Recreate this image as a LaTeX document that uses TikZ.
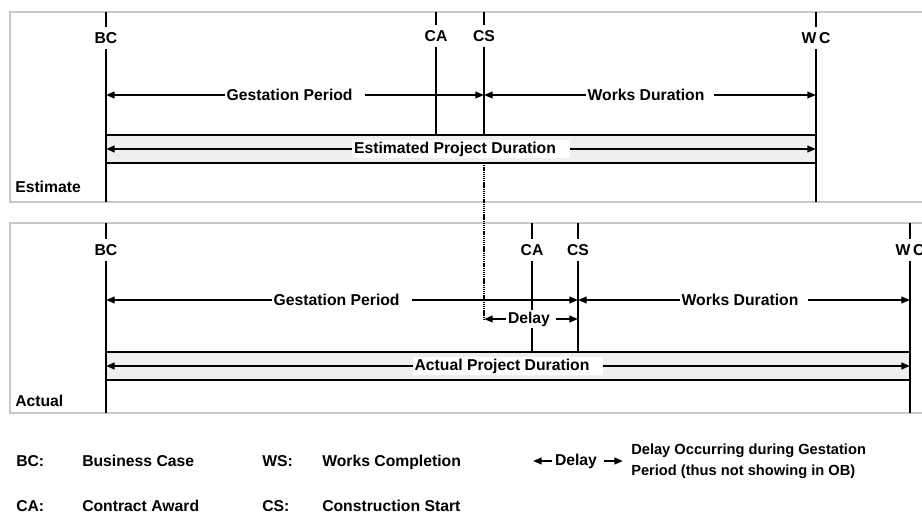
\documentclass[tikz,border=0pt]{standalone}
\usepackage{fontspec}
\setmainfont{Liberation Sans}
\usetikzlibrary{arrows.meta}
\definecolor{panelgrey}{HTML}{C8C8C8}
\definecolor{barfill}{HTML}{EFEFEF}
\begin{document}
\begin{tikzpicture}[x=0.75pt,y=-0.75pt,
  every node/.style={font=\fontsize{11.8}{13}\selectfont\bfseries},
  panelbox/.style={draw=panelgrey, line width=1.5pt},
  vline/.style={line width=1.5pt},
  msl/.style={fill=white, inner xsep=1pt, inner ysep=4pt},
  lbl/.style={fill=white, inner xsep=1.5pt, inner ysep=1.5pt},
  dimarrow/.style={line width=1.5pt, {Triangle[length=6.5pt,width=5pt]}-{Triangle[length=6.5pt,width=5pt]}},
  tipr/.style={line width=1.5pt, -{Triangle[length=6.5pt,width=5pt]}},
  barbox/.style={draw, fill=barfill, line width=1.5pt},
  plain/.style={inner sep=0pt, anchor=west},
  legtext/.style={inner sep=0pt, anchor=base west},
  dotline/.style={line width=1.5pt, dash pattern=on 1pt off 0.6pt},
]
\clip (0,0) rectangle (922,514);
\fill[white] (0,0) rectangle (922,514);

% ---------- panels ----------
\draw[panelbox] (10,12) rectangle (980,202);
\draw[panelbox] (10,223) rectangle (980,413);

% ---------- Estimate panel ----------
\coordinate (eBCt) at (106,12);  \coordinate (eBCb) at (106,202);
\coordinate (eCAt) at (436,12);  \coordinate (eCAb) at (436,135);
\coordinate (eCSt) at (484,12);  \coordinate (eCSb) at (484,135);
\coordinate (eWCt) at (816,12);  \coordinate (eWCb) at (816,202);

\draw[barbox] (106,135) rectangle (816,163);
\draw[vline] (eBCt) -- (eBCb);
\draw[vline] (eCAt) -- (eCAb);
\draw[vline] (eCSt) -- (eCSb);
\draw[vline] (eWCt) -- (eWCb);

\node[msl] (eBC) at (106,38) {BC};
\node[msl] (eCA) at (436,36) {CA};
\node[msl] (eCS) at (484,36) {CS};
\node[msl] (eWC) at (816,38) {W\kern2pt C};

\coordinate (eG1) at (106,95);  \coordinate (eG2) at (484,95);
\coordinate (eW1) at (484,95);  \coordinate (eW2) at (816,95);
\coordinate (eP1) at (106,149); \coordinate (eP2) at (816,149);

\draw[dimarrow] (eG1) -- (eG2) node[midway, lbl] (eGl) {Gestation Period\kern8pt};
\draw[dimarrow] (eW1) -- (eW2) node[midway, lbl] (eWl) {Works Duration\kern6pt};
\draw[dimarrow] (eP1) -- (eP2) node[midway, lbl] (ePl) {Estimated Project Duration\kern9pt};

\node[plain] (est) at (15,187) {Estimate};

% ---------- Actual panel ----------
\coordinate (aBCt) at (106,223); \coordinate (aBCb) at (106,413);
\coordinate (aCAt) at (532,223); \coordinate (aCAb) at (532,352);
\coordinate (aCSt) at (578,223); \coordinate (aCSb) at (578,352);
\coordinate (aWCt) at (910,223); \coordinate (aWCb) at (910,413);

\draw[barbox] (106,352) rectangle (910,380);
\draw[vline] (aBCt) -- (aBCb);
\draw[vline] (aCAt) -- (aCAb);
\draw[vline] (aCSt) -- (aCSb);
\draw[vline] (aWCt) -- (aWCb);

\node[msl] (aBC) at (106,250) {BC};
\node[msl] (aCA) at (532,250) {CA};
\node[msl] (aCS) at (578,250) {CS};
\node[msl] (aWC) at (910,250) {W\kern2pt C};

\coordinate (aG1) at (106,300); \coordinate (aG2) at (578,300);
\coordinate (aW1) at (578,300); \coordinate (aW2) at (910,300);
\coordinate (aD1) at (484,319); \coordinate (aD2) at (578,319);
\coordinate (aP1) at (106,366); \coordinate (aP2) at (910,366);

\draw[dimarrow] (aG1) -- (aG2) node[midway, lbl] (aGl) {Gestation Period\kern8pt};
\draw[dimarrow] (aW1) -- (aW2) node[midway, lbl] (aWl) {Works Duration\kern6pt};
\draw[dimarrow] (aP1) -- (aP2) node[midway, lbl] (aPl) {Actual Project Duration\kern9pt};

% delay link (dotted) and delay arrow
\coordinate (dTop) at (484,163);
\draw[dotline] (dTop) -- (aD1);
\draw[dimarrow] (aD1) -- (aD2) node[midway, lbl] (aDl) {Delay\kern3pt};

\node[plain] (act) at (15,401) {Actual};

% ---------- legend ----------
\node[legtext] (k1) at (16,466) {BC:};
\node[legtext] (v1) at (82,466) {Business Case};
\node[legtext] (k2) at (262,466) {WS:};
\node[legtext] (v2) at (322,466) {Works Completion};
\node[legtext] (k3) at (16,511) {CA:};
\node[legtext] (v3) at (82,511) {Contract Award};
\node[legtext] (k4) at (262,511) {CS:};
\node[legtext] (v4) at (322,511) {Construction Start};

\node[inner sep=0pt] (ld) at (576,461) {Delay};
\coordinate (ldL) at (533,461);
\coordinate (ldR) at (623,461);
\draw[tipr] ([xshift=-2pt]ld.west) -- (ldL);
\draw[tipr] ([xshift=5pt]ld.east) -- (ldR);
\node[plain, align=left, font=\fontsize{11}{15.5}\selectfont\bfseries] (ldt) at (631,461)
  {Delay Occurring during Gestation\\Period (thus not showing in OB)};
\end{tikzpicture}
\end{document}
